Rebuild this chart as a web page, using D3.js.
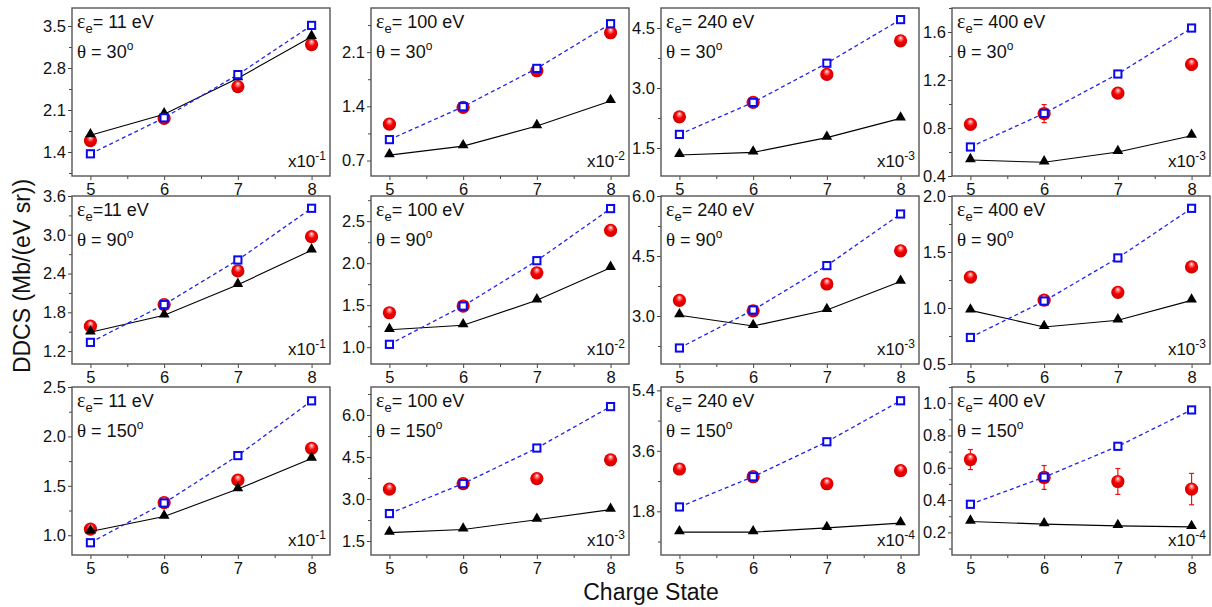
<!DOCTYPE html>
<html>
<head>
<meta charset="utf-8">
<script src="https://cdn.jsdelivr.net/npm/d3@7"></script>
<style>
  body { margin: 0; background: #fff; }
  svg { display: block; font-family: "Liberation Sans", Arial, sans-serif; }
</style>
</head>
<body>
<script>
// charge states on the x axis
const charge = [5, 6, 7, 8]

// panel labels, row by row (theta = 30, 90, 150), column by column (energy)
const energyLabel = ['= 11 eV', '= 100 eV', '= 240 eV', '= 400 eV',
  '=11 eV', '= 100 eV', '= 240 eV', '= 400 eV',
  '= 11 eV', '= 100 eV', '= 240 eV', '= 400 eV']
const angleLabel = ['30', '30', '30', '30', '90', '90', '90', '90', '150', '150', '150', '150']
const scaleExp = ['-1', '-2', '-3', '-3', '-1', '-2', '-3', '-3', '-1', '-3', '-4', '-4']

// experiment (red balls)
const expt = [
  [1.59, 1.96, 2.49, 3.19], [1.17, 1.387, 1.86, 2.35], [2.28, 2.64, 3.34, 4.18], [0.83, 0.92, 1.09, 1.33],
  [1.585, 1.92, 2.44, 2.97], [1.41, 1.49, 1.885, 2.39], [3.39, 3.13, 3.80, 4.63], [1.275, 1.07, 1.14, 1.367],
  [1.061, 1.33, 1.557, 1.879], [3.35, 3.55, 3.73, 4.40], [3.06, 2.83, 2.62, 3.01], [0.651, 0.54, 0.515, 0.468]
]
const exptErr = [
  [0, 0, 0, 0], [0, 0, 0, 0], [0, 0, 0, 0], [0.02, 0.075, 0.02, 0.047],
  [0, 0, 0, 0], [0, 0, 0, 0], [0, 0, 0, 0], [0.02, 0.04, 0.02, 0.03],
  [0, 0, 0, 0], [0, 0, 0, 0], [0.06, 0.12, 0.15, 0.15], [0.062, 0.074, 0.08, 0.097]
]
// theory 1 (black triangles, solid)
const theoryTri = [
  [1.68, 2.03, 2.63, 3.32], [0.77, 0.886, 1.145, 1.47], [1.325, 1.39, 1.76, 2.24], [0.533, 0.514, 0.60, 0.736],
  [1.49, 1.754, 2.226, 2.76], [1.207, 1.262, 1.558, 1.945], [3.02, 2.75, 3.15, 3.86], [0.979, 0.831, 0.89, 1.068],
  [1.038, 1.189, 1.467, 1.776], [1.80, 1.91, 2.26, 2.62], [1.18, 1.18, 1.307, 1.45], [0.267, 0.251, 0.240, 0.234]
]
// theory 2 (blue open squares, dashed)
const theorySq = [
  [1.37, 1.97, 2.69, 3.51], [0.97, 1.395, 1.89, 2.467], [1.84, 2.64, 3.62, 4.71], [0.642, 0.922, 1.25, 1.633],
  [1.335, 1.92, 2.61, 3.41], [1.034, 1.49, 2.03, 2.65], [2.20, 3.15, 4.26, 5.55], [0.737, 1.062, 1.447, 1.89],
  [0.924, 1.326, 1.806, 2.36], [2.48, 3.55, 4.82, 6.30], [1.93, 2.83, 3.87, 5.09], [0.374, 0.542, 0.733, 0.958]
]

const yDomains = [
  [1.0, 3.8], [0.5, 2.67], [0.8, 5.0], [0.4, 1.8],
  [1.0, 3.6], [0.8, 2.8], [1.8, 6.0], [0.5, 2.0],
  [0.8, 2.5], [1.0, 7.0], [0.5, 5.5], [0.06, 1.1]
]
const yTicks = [
  [1.4, 2.1, 2.8, 3.5], [0.7, 1.4, 2.1], [1.5, 3.0, 4.5], [0.4, 0.8, 1.2, 1.6],
  [1.2, 1.8, 2.4, 3.0, 3.6], [1.0, 1.5, 2.0, 2.5], [3.0, 4.5, 6.0], [0.5, 1.0, 1.5, 2.0],
  [1.0, 1.5, 2.0, 2.5], [1.5, 3.0, 4.5, 6.0], [1.8, 3.6, 5.4], [0.2, 0.4, 0.6, 0.8, 1.0]
]

const W = 1212, H = 607
const colX = [72, 371, 661, 952]
const rowY = [8, 196, 387]
const pw = 258, ph = 168

const svg = d3.select('body').append('svg').attr('width', W).attr('height', H)

const defs = svg.append('defs')
const grad = defs.append('radialGradient').attr('id', 'ball')
  .attr('cx', '50%').attr('cy', '45%').attr('r', '55%').attr('fx', '50%').attr('fy', '26%')
grad.append('stop').attr('offset', '0%').attr('stop-color', '#ffffff')
grad.append('stop').attr('offset', '18%').attr('stop-color', '#ff8a8a')
grad.append('stop').attr('offset', '50%').attr('stop-color', '#f50000')
grad.append('stop').attr('offset', '100%').attr('stop-color', '#cc0000')

const x = d3.scaleLinear().domain([4.75, 8.25]).range([0, pw])
const tri = d3.symbol().type(d3.symbolTriangle).size(50)

for (let p = 0; p < 12; p++) {
  const r = Math.floor(p / 4), c = p % 4
  const g = svg.append('g').attr('transform', `translate(${colX[c]},${rowY[r]})`)
  const y = d3.scaleLinear().domain(yDomains[p]).range([ph, 0])

  // minor ticks halfway between majors
  const t = yTicks[p], step = t[1] - t[0]
  const minor = []
  for (let v = t[0] - step / 2; v <= yDomains[p][1] + 1e-9; v += step) {
    if (v >= yDomains[p][0] - 1e-9) minor.push(v)
  }

  g.append('g').call(d3.axisLeft(y).tickValues(minor).tickSize(3).tickFormat(''))
    .call(a => a.select('.domain').remove())
    .selectAll('line').attr('stroke', '#444')
  g.append('g').call(d3.axisLeft(y).tickValues(t).tickSize(4).tickPadding(2).tickFormat(d3.format('.1f')))
    .call(a => a.select('.domain').remove())
    .call(a => a.selectAll('line').attr('stroke', '#444'))
    .selectAll('text').attr('font-size', 16.5).attr('fill', '#111').attr('font-family', '"Liberation Sans", Arial, sans-serif')

  g.append('g').attr('transform', `translate(0,${ph})`)
    .call(d3.axisBottom(x).tickValues([5.5, 6.5, 7.5]).tickSize(3).tickFormat(''))
    .call(a => a.select('.domain').remove())
    .selectAll('line').attr('stroke', '#444')
  g.append('g').attr('transform', `translate(0,${ph})`)
    .call(d3.axisBottom(x).tickValues(charge).tickSize(4).tickPadding(3).tickFormat(d3.format('d')))
    .call(a => a.select('.domain').remove())
    .call(a => a.selectAll('line').attr('stroke', '#444'))
    .selectAll('text').attr('font-size', 16.5).attr('fill', '#111').attr('font-family', '"Liberation Sans", Arial, sans-serif')

  // experiment: error bars then balls
  const eg = g.append('g')
  charge.forEach((q, i) => {
    const e = exptErr[p][i]
    if (e > 0) {
      const cx = x(q), y0 = y(expt[p][i] - e), y1 = y(expt[p][i] + e)
      eg.append('line').attr('x1', cx).attr('x2', cx).attr('y1', y0).attr('y2', y1)
        .attr('stroke', '#ee1111').attr('stroke-width', 1.2)
      ;[y0, y1].forEach(yy => eg.append('line').attr('x1', cx - 2.5).attr('x2', cx + 2.5)
        .attr('y1', yy).attr('y2', yy).attr('stroke', '#ee1111').attr('stroke-width', 1.2))
    }
  })
  g.selectAll('circle.ex').data(expt[p]).enter().append('circle')
    .attr('cx', (d, i) => x(charge[i])).attr('cy', d => y(d)).attr('r', 6.6)
    .attr('fill', 'url(#ball)')

  // theory with triangles
  const line = d3.line().x((d, i) => x(charge[i])).y(d => y(d))
  g.append('path').datum(theoryTri[p]).attr('d', line)
    .attr('fill', 'none').attr('stroke', '#000').attr('stroke-width', 1.1)
  g.selectAll('path.tri').data(theoryTri[p]).enter().append('path')
    .attr('d', tri).attr('transform', (d, i) => `translate(${x(charge[i])},${y(d) - 1})`)
    .attr('fill', '#000')

  // theory with squares
  g.append('path').datum(theorySq[p]).attr('d', line)
    .attr('fill', 'none').attr('stroke', '#2222ee').attr('stroke-width', 1.3)
    .attr('stroke-dasharray', '4,3')
  g.selectAll('rect.sq').data(theorySq[p]).enter().append('rect')
    .attr('x', (d, i) => x(charge[i]) - 3.6).attr('y', d => y(d) - 3.6)
    .attr('width', 7.2).attr('height', 7.2)
    .attr('fill', '#fff').attr('stroke', '#0a0aee').attr('stroke-width', 2)

  // frame
  g.append('rect').attr('width', pw).attr('height', ph)
    .attr('fill', 'none').attr('stroke', '#555').attr('stroke-width', 1.4)

  // labels
  const lab = g.append('text').attr('x', 5).attr('y', 20).attr('font-size', 18).attr('fill', '#111')
  lab.append('tspan').attr('font-family', '"Liberation Serif", "DejaVu Serif", serif').attr('font-size', 20).text('ε')
  lab.append('tspan').attr('font-size', 13).attr('dy', 5).text('e')
  lab.append('tspan').attr('dy', -5).text(energyLabel[p])

  const th = g.append('text').attr('x', 5).attr('y', 50).attr('font-size', 18).attr('fill', '#111')
  th.append('tspan').attr('font-family', '"Liberation Serif", "DejaVu Serif", serif').attr('font-size', 19).text('θ')
  th.append('tspan').text(` = ${angleLabel[p]}`)
  th.append('tspan').attr('font-size', 12).attr('dy', -8).text('o')

  const sc = g.append('text').attr('x', pw - 4).attr('y', ph - 9).attr('font-size', 17)
    .attr('fill', '#111').attr('text-anchor', 'end')
  sc.append('tspan').text('x10')
  sc.append('tspan').attr('font-size', 12).attr('dy', -7).text(scaleExp[p])
}

svg.append('text').attr('x', 651).attr('y', 600).attr('text-anchor', 'middle')
  .attr('font-size', 23).attr('fill', '#111').text('Charge State')
svg.append('text').attr('transform', 'translate(30,276) rotate(-90)').attr('text-anchor', 'middle')
  .attr('font-size', 23).attr('fill', '#111').text('DDCS (Mb/(eV sr))')
</script>
</body>
</html>
